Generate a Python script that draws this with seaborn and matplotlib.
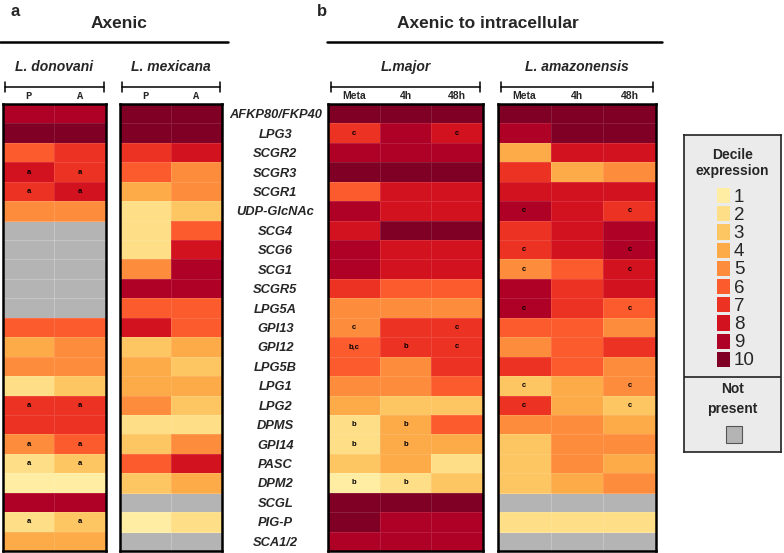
import numpy as np
import pandas as pd
import matplotlib
matplotlib.use('Agg')
import matplotlib.pyplot as plt
from matplotlib.colors import ListedColormap
from matplotlib.patches import Rectangle
from matplotlib.lines import Line2D
import seaborn as sns

sns.set_style('white')
plt.rcParams['font.family'] = ['Liberation Sans', 'DejaVu Sans']

nan = np.nan

# 基因名（行）
genes = ["AFKP80/FKP40", "LPG3", "SCGR2", "SCGR3", "SCGR1", "UDP-GlcNAc", "SCG4",
         "SCG6", "SCG1", "SCGR5", "LPG5A", "GPI13", "GPI12", "LPG5B", "LPG1", "LPG2",
         "DPMS", "GPI14", "PASC", "DPM2", "SCGL", "PIG-P", "SCA1/2"]

# 十分位表达值, nan = 不存在
donovani_P = [9, 10, 6, 8, 7, 5, nan, nan, nan, nan, nan, 6, 4, 5, 2, 7, 7, 5, 2, 1, 9, 2, 4]
donovani_A = [9, 10, 7, 7, 8, 5, nan, nan, nan, nan, nan, 6, 5, 5, 3, 7, 7, 6, 3, 1, 9, 3, 4]
mexicana_P = [10, 10, 7, 6, 4, 2, 2, 2, 5, 9, 6, 8, 3, 4, 4, 5, 2, 3, 6, 3, nan, 1, nan]
mexicana_A = [10, 10, 8, 5, 5, 3, 6, 8, 9, 9, 6, 6, 4, 3, 4, 3, 2, 5, 8, 4, nan, 2, nan]
major_meta = [10, 7, 9, 10, 6, 9, 8, 9, 9, 7, 5, 5, 6, 6, 5, 4, 2, 2, 3, 1, 10, 10, 9]
major_4h = [10, 9, 9, 10, 8, 8, 10, 8, 8, 6, 5, 7, 7, 5, 5, 3, 4, 4, 4, 2, 10, 9, 9]
major_48h = [10, 8, 9, 10, 8, 8, 10, 8, 8, 6, 5, 7, 7, 7, 6, 3, 6, 4, 2, 3, 10, 9, 9]
amaz_meta = [10, 9, 4, 7, 8, 9, 7, 7, 5, 9, 9, 6, 5, 7, 3, 7, 5, 3, 3, 3, nan, 2, nan]
amaz_4h = [10, 10, 8, 4, 8, 8, 8, 8, 6, 7, 7, 6, 6, 6, 4, 4, 5, 5, 5, 4, nan, 2, nan]
amaz_48h = [10, 10, 8, 5, 8, 7, 9, 9, 8, 8, 6, 5, 7, 5, 5, 3, 4, 5, 4, 5, nan, 2, nan]

# 显著性标记
a_rows = [3, 4, 15, 17, 18, 21]
donovani_lab = ['a' if i in a_rows else '' for i in range(len(genes))]
major_meta_lab = ['', 'c', '', '', '', '', '', '', '', '', '', 'c', 'b,c', '', '', '', 'b', 'b', '', 'b', '', '', '']
major_4h_lab = ['', '', '', '', '', '', '', '', '', '', '', '', 'b', '', '', '', 'b', 'b', '', 'b', '', '', '']
major_48h_lab = ['', 'c', '', '', '', '', '', '', '', '', '', 'c', 'c', '', '', '', '', '', '', '', '', '', '']
c_rows = [5, 7, 8, 10, 14, 15]
amaz_lab = ['c' if i in c_rows else '' for i in range(len(genes))]
empty_lab = [''] * len(genes)

levels = list(range(1, 11))
colors = ['#FFEDA3', '#FEDE86', '#FEC662', '#FDAA48', '#FD8D3C',
          '#FC5B2E', '#EB3223', '#D3121F', '#AF0026', '#7F0024']
cmap = ListedColormap(colors)
gray = '#B4B4B4'

W, H = 784, 553
fig = plt.figure(figsize=(W / 100, H / 100), dpi=100)


def rect(x0, y0, x1, y1):
    return [x0 / W, 1 - y1 / H, (x1 - x0) / W, (y1 - y0) / H]


panels = [
    ('L. donovani', rect(3, 104, 106, 551), {'P': donovani_P, 'A': donovani_A},
     [donovani_lab, donovani_lab], 'mono'),
    ('L. mexicana', rect(120, 104, 222, 551), {'P': mexicana_P, 'A': mexicana_A},
     [empty_lab, empty_lab], 'mono'),
    ('L.major', rect(328, 104, 483, 551), {'Meta': major_meta, '4h': major_4h, '48h': major_48h},
     [major_meta_lab, major_4h_lab, major_48h_lab], 'sans'),
    ('L. amazonensis', rect(498, 104, 656, 551), {'Meta': amaz_meta, '4h': amaz_4h, '48h': amaz_48h},
     [amaz_lab, empty_lab, amaz_lab], 'sans'),
]

for name, pos, data, labs, colfont in panels:
    ax = fig.add_axes(pos)
    ax.set_facecolor(gray)
    df = pd.DataFrame(data, index=genes)
    annot = np.array(labs).T
    sns.heatmap(df, ax=ax, cmap=cmap, vmin=0.5, vmax=10.5, cbar=False,
                annot=annot, fmt='', linewidths=0.4, linecolor=(1, 1, 1, 0.12),
                annot_kws=dict(fontsize=5.5, fontweight='bold', color='black'),
                xticklabels=True, yticklabels=False)
    ax.set_xlabel('')
    ax.set_ylabel('')
    ax.xaxis.tick_top()
    if colfont == 'mono':
        ax.set_xticklabels(df.columns, rotation=0, fontsize=7.5, fontweight='bold',
                           family=['Liberation Mono', 'DejaVu Sans Mono'])
    else:
        ax.set_xticklabels(df.columns, rotation=0, fontsize=7.5, fontweight='bold')
    ax.tick_params(axis='x', length=0, pad=2)
    for sp in ax.spines.values():
        sp.set_visible(True)
        sp.set_linewidth(1.8)
        sp.set_color('black')
    # 括号
    ax.plot([0.02, 0.98], [1.038, 1.038], transform=ax.transAxes, clip_on=False, color='black', lw=1.1)
    for xe in [0.02, 0.98]:
        ax.plot([xe, xe], [1.026, 1.05], transform=ax.transAxes, clip_on=False, color='black', lw=1.1)
    ax.text(0.5, 1.083, name, transform=ax.transAxes, ha='center', va='center',
            fontstyle='italic', fontweight='bold', fontsize=10)
    if name == 'L.major':
        ax.set_yticks(np.arange(len(genes)) + 0.5)
        ax.set_yticklabels(genes, rotation=0, ha='center', fontstyle='italic',
                           fontweight='bold', fontsize=9.3)
        ax.tick_params(axis='y', length=0, pad=38)

# 标题
fig.text(15 / W, 1 - 11 / H, 'a', fontsize=12, fontweight='bold', ha='center', va='center')
fig.text(119 / W, 1 - 23 / H, 'Axenic', fontsize=12.5, fontweight='bold', ha='center', va='center')
fig.add_artist(Line2D([0, 228 / W], [1 - 42 / H] * 2, color='black', lw=1.8))
fig.text(322 / W, 1 - 11 / H, 'b', fontsize=12, fontweight='bold', ha='center', va='center')
fig.text(488 / W, 1 - 23 / H, 'Axenic to intracellular', fontsize=12.5, fontweight='bold',
         ha='center', va='center')
fig.add_artist(Line2D([327 / W, 662 / W], [1 - 42 / H] * 2, color='black', lw=1.8))

# 图例
lax = fig.add_axes(rect(684, 135, 781, 452))
lax.set_facecolor('#EBEBEB')
lax.set_xlim(0, 1)
lax.set_ylim(0, 1)
lax.set_xticks([])
lax.set_yticks([])
for sp in lax.spines.values():
    sp.set_visible(True)
    sp.set_linewidth(1.2)
    sp.set_color('#222222')
lax.axhline(0.237, color='#222222', lw=1.2)
lax.text(0.5, 0.912, 'Decile\nexpression', ha='center', va='center', fontsize=10,
         fontweight='bold', linespacing=1.25)
lax.text(0.5, 0.167, 'Not\npresent', ha='center', va='center', fontsize=10,
         fontweight='bold', linespacing=1.5)
lax.add_patch(Rectangle((0.433, 0.028), 0.165, 0.054, facecolor=gray, edgecolor='#555555', lw=0.8))

sax = fig.add_axes(rect(715, 186, 731, 368))
sns.heatmap(pd.DataFrame({'d': levels}, index=levels), ax=sax, cmap=cmap, vmin=0.5, vmax=10.5,
            cbar=False, linewidths=1, linecolor='#EBEBEB', xticklabels=False, yticklabels=True)
sax.yaxis.tick_right()
sax.set_yticklabels(levels, rotation=0, fontsize=13.5, ha='left')
sax.tick_params(axis='y', length=0, pad=2)
sax.set_xlabel('')
sax.set_ylabel('')

fig.savefig('out.png', dpi=100)
